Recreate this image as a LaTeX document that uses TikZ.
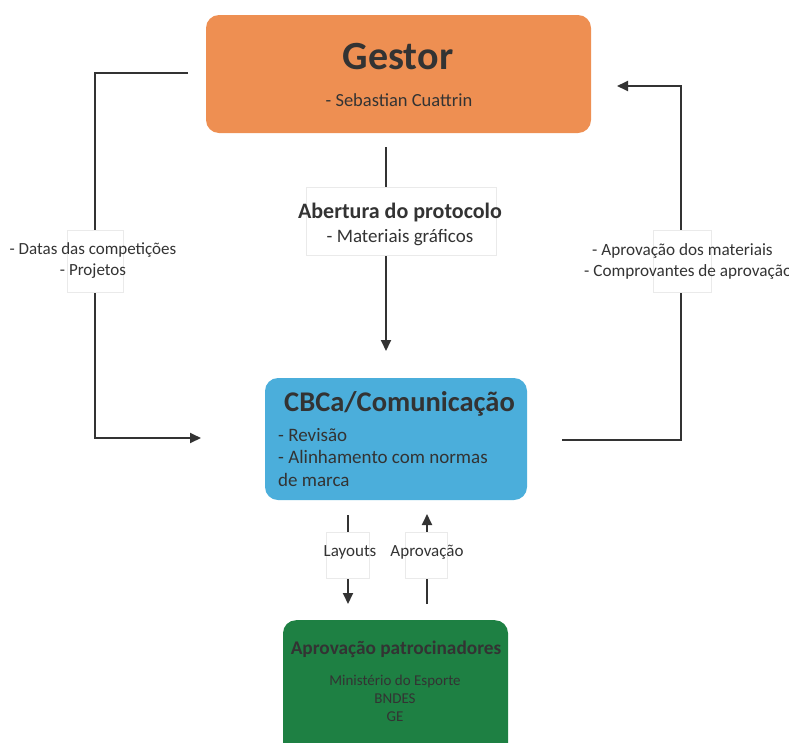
\documentclass[tikz,border=0pt]{standalone}
\usepackage{fontspec}
\setmainfont{Carlito}
\usetikzlibrary{arrows.meta}
\definecolor{orng}{HTML}{EE8F52}
\definecolor{blu}{HTML}{4BAEDB}
\definecolor{grn}{HTML}{1E8043}
\definecolor{txc}{HTML}{333333}
\definecolor{lnc}{HTML}{333333}
\definecolor{lblb}{HTML}{EAEAEA}
\tikzset{
  bigbox/.style={rounded corners=13pt, inner sep=0pt, draw=none},
  lblbox/.style={fill=white, draw=lblb, line width=0.6pt, inner sep=0pt},
  txt/.style={text=txc, inner sep=0pt},
  conn/.style={draw=lnc, line width=1.9pt},
  arr/.style={conn, -{Triangle[length=11pt,width=10pt]}},
}
\begin{document}
\begin{tikzpicture}[x=1pt,y=-1pt]
\useasboundingbox (0,0) rectangle (789,742);
% main boxes
\node[bigbox, fill=orng, minimum width=385pt, minimum height=118pt] (gestor) at (398.5,74) {};
\node[bigbox, fill=blu, minimum width=262pt, minimum height=122pt] (cbca) at (396,439) {};
\node[bigbox, fill=grn, minimum width=225pt, minimum height=150pt, anchor=north] (patro) at (395.5,620) {};
% connector end points
\coordinate (gl) at (188,73);
\coordinate (cl) at (201,438);
\coordinate (gb) at (386,147);
\coordinate (ct) at (386,351);
\coordinate (cr) at (562,440);
\coordinate (gr) at (617,86);
\coordinate (lay1) at (348,515);
\coordinate (lay2) at (348,604);
\coordinate (apr1) at (427,604);
\coordinate (apr2) at (427,514);
% connectors
\draw[arr] (gl) -- (95,73) -- (95,438) -- (cl);
\draw[arr] (gb) -- (ct);
\draw[arr] (cr) -- (681,440) -- (681,86) -- (gr);
\draw[arr] (lay1) -- (lay2);
\draw[arr] (apr1) -- (apr2);
% label boxes
\node[lblbox, minimum width=56pt, minimum height=62pt] (lbl1) at (95,261) {};
\node[lblbox, minimum width=190pt, minimum height=68pt] (lbl2) at (401,221) {};
\node[lblbox, minimum width=58pt, minimum height=62pt] (lbl3) at (682,261) {};
\node[lblbox, minimum width=43pt, minimum height=46pt] (lbl4) at (348,555) {};
\node[lblbox, minimum width=42pt, minimum height=46pt] (lbl5) at (426,555) {};
% texts: gestor
\node[txt, font=\fontsize{40}{44}\selectfont\bfseries] (t1) at (398,57) {Gestor};
\node[txt, font=\fontsize{18.5}{22}\selectfont] (t2) at (399,100) {- Sebastian Cuattrin};
% cbca
\node[txt, font=\fontsize{28.5}{30}\selectfont\bfseries, anchor=west] (t3) at (284,404) {CBCa/Comunicação};
\node[txt, font=\fontsize{19}{22}\selectfont, anchor=west] (t4) at (278,435) {- Revisão};
\node[txt, font=\fontsize{19}{22}\selectfont, anchor=west] (t5) at (278,457) {- Alinhamento com normas};
\node[txt, font=\fontsize{19}{22}\selectfont, anchor=west] (t6) at (278,480) {de marca};
% patrocinadores
\node[txt, font=\fontsize{19.3}{22}\selectfont\bfseries] (t7) at (396,649) {Aprovação patrocinadores};
\node[txt, font=\fontsize{15}{18}\selectfont] (t8) at (395,681) {Ministério do Esporte};
\node[txt, font=\fontsize{15}{18}\selectfont] (t9) at (395,699) {BNDES};
\node[txt, font=\fontsize{15}{18}\selectfont] (t10) at (395,717) {GE};
% connector labels
\node[txt, font=\fontsize{17}{21}\selectfont, align=center] (t11) at (93,261) {- Datas das competições\\- Projetos};
\node[txt, font=\fontsize{22}{24}\selectfont\bfseries] (t12) at (400,213) {Abertura do protocolo};
\node[txt, font=\fontsize{19}{22}\selectfont] (t13) at (400,238) {- Materiais gráficos};
\node[txt, font=\fontsize{17.2}{21}\selectfont, anchor=west] (t14) at (592,251) {- Aprovação dos materiais};
\node[txt, font=\fontsize{17.2}{21}\selectfont, anchor=west] (t15) at (584,272) {- Comprovantes de aprovaçãov};
\node[txt, font=\fontsize{17}{20}\selectfont] (t16) at (350,552) {Layouts};
\node[txt, font=\fontsize{17}{20}\selectfont] (t17) at (427,552) {Aprovação};
\end{tikzpicture}
\end{document}
